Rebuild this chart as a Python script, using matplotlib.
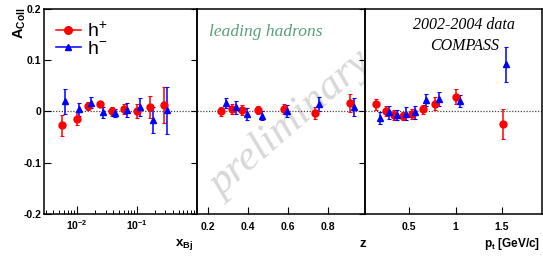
import matplotlib
matplotlib.use("Agg")
import matplotlib.pyplot as plt
from matplotlib.lines import Line2D
from matplotlib.ticker import FixedLocator, LogLocator, NullFormatter

plt.rcParams["font.family"] = "Liberation Sans"
plt.rcParams["mathtext.fontset"] = "custom"
plt.rcParams["mathtext.rm"] = "Liberation Sans"
plt.rcParams["mathtext.bf"] = "Liberation Sans:bold"

# x_Bj panel
xbj_pos = [0.0057, 0.0098, 0.0155, 0.0245, 0.039, 0.061, 0.100, 0.164, 0.285]
a_xbj_pos = [-0.027, -0.014, 0.011, 0.015, 0.000, 0.005, 0.001, 0.009, 0.013]
e_xbj_pos = [0.021, 0.012, 0.008, 0.006, 0.008, 0.010, 0.013, 0.021, 0.035]
xbj_neg = [0.0064, 0.0109, 0.0173, 0.0277, 0.043, 0.068, 0.112, 0.184, 0.319]
a_xbj_neg = [0.020, 0.004, 0.017, -0.002, -0.003, 0.003, 0.009, -0.017, 0.002]
e_xbj_neg = [0.024, 0.013, 0.011, 0.010, 0.008, 0.013, 0.018, 0.025, 0.046]

# z panel
z_pos = [0.265, 0.318, 0.370, 0.447, 0.577, 0.735, 0.909]
a_z_pos = [0.000, 0.005, 0.003, 0.003, 0.005, -0.003, 0.016]
e_z_pos = [0.008, 0.010, 0.010, 0.008, 0.010, 0.012, 0.018]
z_neg = [0.287, 0.339, 0.393, 0.469, 0.594, 0.757, 0.929]
a_z_neg = [0.017, 0.008, -0.005, -0.008, 0.001, 0.014, 0.009]
e_z_neg = [0.010, 0.012, 0.012, 0.008, 0.012, 0.014, 0.018]

# pt panel
pt_pos = [0.149, 0.247, 0.339, 0.437, 0.532, 0.647, 0.784, 1.005, 1.507]
a_pt_pos = [0.014, 0.001, -0.007, -0.009, -0.005, 0.004, 0.015, 0.029, -0.024]
e_pt_pos = [0.011, 0.009, 0.009, 0.008, 0.010, 0.009, 0.013, 0.014, 0.029]
pt_neg = [0.192, 0.286, 0.374, 0.468, 0.563, 0.679, 0.823, 1.044, 1.543]
a_pt_neg = [-0.013, -0.002, -0.007, -0.004, -0.002, 0.022, 0.024, 0.021, 0.092]
e_pt_neg = [0.012, 0.012, 0.010, 0.012, 0.012, 0.012, 0.014, 0.012, 0.034]

red = "#ff0000"
blue = "#0000ff"

fig = plt.figure(figsize=(5.43, 2.58), dpi=100)
bottom, height = 0.1705, 0.795
ax1 = fig.add_axes([0.081, bottom, 0.281, height])
ax2 = fig.add_axes([0.362, bottom, 0.311, height])
ax3 = fig.add_axes([0.673, bottom, 0.325, height])

# watermark sits under the data
fig.text(0.535, 0.52, "preliminary", rotation=41, ha="center", va="center",
         fontsize=31, style="italic", family="Liberation Serif", color="#d8d8d8",
         zorder=-1)

panels = [
    (ax1, xbj_pos, a_xbj_pos, e_xbj_pos, xbj_neg, a_xbj_neg, e_xbj_neg),
    (ax2, z_pos, a_z_pos, e_z_pos, z_neg, a_z_neg, e_z_neg),
    (ax3, pt_pos, a_pt_pos, e_pt_pos, pt_neg, a_pt_neg, e_pt_neg),
]

for ax, xp, yp, ep, xn, yn, en in panels:
    ax.set_facecolor("none")
    ax.axhline(0, color="#444444", ls=(0, (1, 1.3)), lw=0.9, zorder=1)
    ax.errorbar(xp, yp, yerr=ep, fmt="o", color=red, ms=5, elinewidth=1.1,
                capsize=1.2, capthick=0.8, zorder=3)
    ax.errorbar(xn, yn, yerr=en, fmt="^", color=blue, ms=4.5, elinewidth=1.1,
                capsize=1.2, capthick=0.8, zorder=3)
    ax.set_ylim(-0.2, 0.2)
    for s in ax.spines.values():
        s.set_linewidth(1.1)
    ax.tick_params(direction="in", labelsize=7.5, width=0.8)

ax1.set_xscale("log")
ax1.set_xlim(0.0028, 1.0)
ax1.xaxis.set_major_locator(FixedLocator([0.01, 0.1]))
ax1.set_xticklabels([r"$\mathbf{10^{-2}}$", r"$\mathbf{10^{-1}}$"])
ax1.xaxis.set_minor_locator(LogLocator(base=10, subs=range(2, 10)))
ax1.xaxis.set_minor_formatter(NullFormatter())
ax1.tick_params(axis="x", which="major", length=6, pad=3)
ax1.tick_params(axis="x", which="minor", length=3, width=0.7, direction="in")
ax1.set_yticks([-0.2, -0.1, 0, 0.1, 0.2])
ax1.set_yticklabels(["-0.2", "-0.1", "0", "0.1", "0.2"], fontweight="bold")
ax1.tick_params(axis="y", length=5, pad=2)

ax2.set_xlim(0.142, 0.987)
ax2.set_xticks([0.2, 0.4, 0.6, 0.8])
ax2.set_xticklabels(["0.2", "0.4", "0.6", "0.8"], fontweight="bold")
ax3.set_xlim(0.03, 1.93)
ax3.set_xticks([0.5, 1.0, 1.5])
ax3.set_xticklabels(["0.5", "1", "1.5"], fontweight="bold")
for ax in (ax2, ax3):
    ax.set_yticks([-0.2, -0.1, 0, 0.1, 0.2])
    ax.tick_params(axis="y", direction="out", length=4, labelleft=False)
    ax.tick_params(axis="x", length=5, pad=6)

fig.text(0.022, 0.97, r"$\mathbf{A_{Coll}}$", rotation=90, ha="left", va="top", fontsize=10.5)
fig.text(0.355, 0.025, r"$\mathbf{x_{Bj}}$", ha="right", va="bottom", fontsize=9.5)
fig.text(0.676, 0.03, r"$\mathbf{z}$", ha="right", va="bottom", fontsize=9.5)
fig.text(0.995, 0.025, r"$\mathbf{p_{t}}$ [GeV/c]", ha="right", va="bottom",
         fontsize=8.5, fontweight="bold")

handles = [
    Line2D([], [], color=red, marker="o", ms=5.5, lw=1.1),
    Line2D([], [], color=blue, marker="^", ms=5, lw=1.1),
]
ax1.legend(handles, [r"h$^{+}$", r"h$^{-}$"], loc="upper left", frameon=False,
           fontsize=14, handlelength=1.3, handletextpad=0.3, labelspacing=0.0,
           borderaxespad=0.2, bbox_to_anchor=(0.0, 1.0))

ax2.text(0.41, 0.87, "leading hadrons", transform=ax2.transAxes, ha="center",
         fontsize=12.5, style="italic", family="Liberation Serif", color="#5a9e7c")
ax3.text(0.56, 0.9, "2002-2004 data", transform=ax3.transAxes, ha="center",
         fontsize=11.5, style="italic", family="Liberation Serif")
ax3.text(0.56, 0.8, "COMPASS", transform=ax3.transAxes, ha="center",
         fontsize=11.5, style="italic", family="Liberation Serif")

fig.savefig("out.png", dpi=100)
